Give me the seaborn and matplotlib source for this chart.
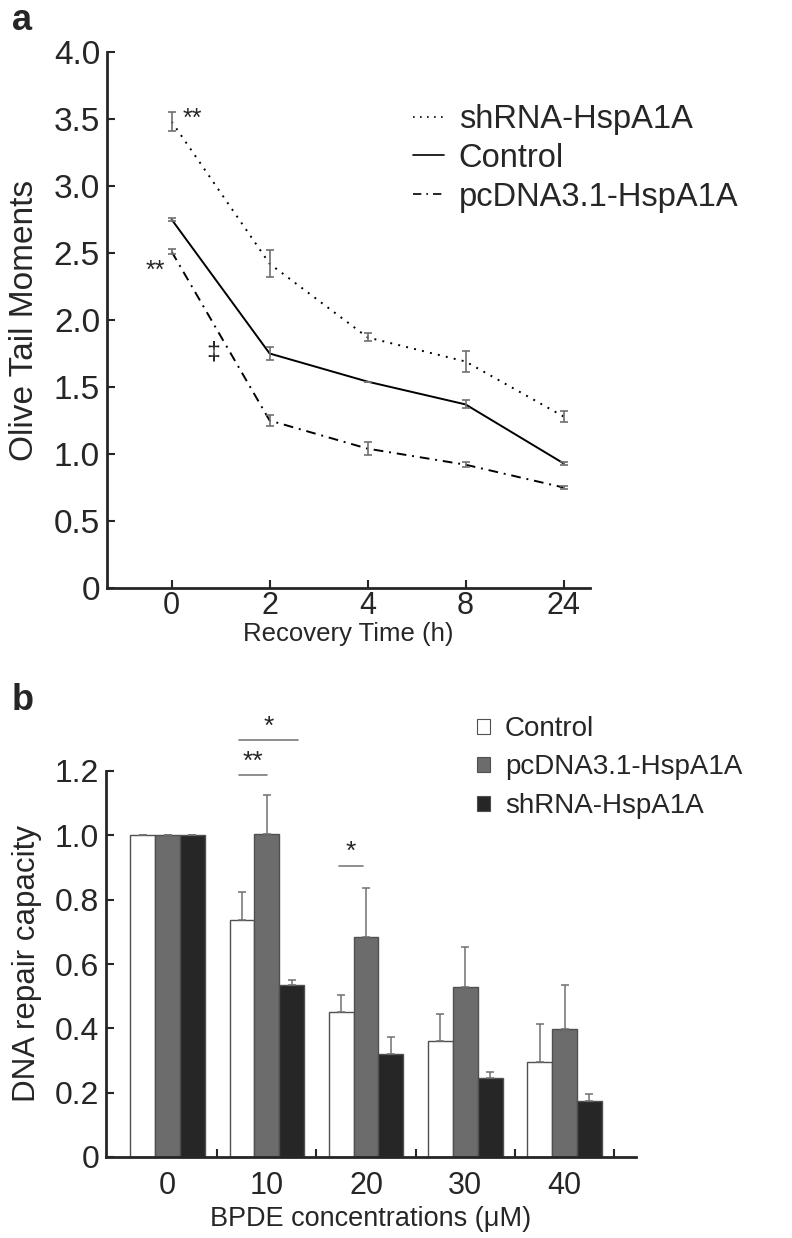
import numpy as np
import pandas as pd
import matplotlib
matplotlib.use("Agg")
import matplotlib.pyplot as plt
import seaborn as sns

# ---------------------------------------------------------------
# Panel a - Olive tail moments over recovery time
# ---------------------------------------------------------------
time_labels = ["0", "2", "4", "8", "24"]
sh_mean = [3.48, 2.42, 1.87, 1.69, 1.28]
sh_err = [0.07, 0.10, 0.03, 0.08, 0.04]
ctrl_mean = [2.75, 1.75, 1.54, 1.37, 0.93]
ctrl_err = [0.01, 0.05, 0.0, 0.03, 0.01]
pc_mean = [2.51, 1.25, 1.04, 0.92, 0.75]
pc_err = [0.02, 0.04, 0.05, 0.02, 0.01]
line_groups = ["shRNA-HspA1A", "Control", "pcDNA3.1-HspA1A"]

# ---------------------------------------------------------------
# Panel b - DNA repair capacity vs BPDE concentration
# ---------------------------------------------------------------
conc_labels = ["0", "10", "20", "30", "40"]
bar_groups = ["Control", "pcDNA3.1-HspA1A", "shRNA-HspA1A"]
ctrl_bar = [1.0, 0.736, 0.45, 0.361, 0.296]
ctrl_bar_err = [0.0, 0.087, 0.053, 0.083, 0.118]
pc_bar = [1.0, 1.005, 0.685, 0.529, 0.399]
pc_bar_err = [0.0, 0.12, 0.152, 0.125, 0.137]
sh_bar = [1.0, 0.536, 0.32, 0.245, 0.173]
sh_bar_err = [0.0, 0.014, 0.053, 0.02, 0.024]

sns.set_style("ticks")
plt.rcParams['font.family'] = ['Liberation Sans', 'DejaVu Sans']

fig = plt.figure(figsize=(7.92, 12.38), dpi=100)
W, H = 792, 1238

# ---------------- panel a ----------------
ax1 = fig.add_axes([107 / W, 1 - 588 / H, 483 / W, 536 / H])

df_line = pd.DataFrame({
    "pos": list(range(5)) * 3,
    "value": sh_mean + ctrl_mean + pc_mean,
    "group": np.repeat(line_groups, 5),
})
sns.lineplot(data=df_line, x="pos", y="value", style="group", style_order=line_groups,
             dashes={"shRNA-HspA1A": (1, 3.2), "Control": "",
                     "pcDNA3.1-HspA1A": (5, 3, 1, 3)},
             color="black", linewidth=1.4, ax=ax1, legend=True)

for means, errs in [(sh_mean, sh_err), (ctrl_mean, ctrl_err), (pc_mean, pc_err)]:
    ax1.errorbar(range(5), means, yerr=errs, fmt="none", ecolor="#707070",
                 elinewidth=1.2, capsize=3, capthick=1.2)

# axis starts well left of the first point, ends just after the last
ax1.set_xlim(-0.66, 4.27)
ax1.set_ylim(0, 4.0)
ax1.set_xticks(range(5))
ax1.set_xticklabels(time_labels)
yt = np.arange(0, 4.01, 0.5)
ax1.set_yticks(yt)
ax1.set_yticklabels(["0"] + [f"{v:.1f}" for v in yt[1:]])
ax1.tick_params(direction="in", length=6, width=1.5, labelsize=22, pad=5)
ax1.tick_params(axis="y", labelsize=24)
ax1.tick_params(axis="x", pad=2)
for s in ["left", "bottom"]:
    ax1.spines[s].set_linewidth(2)
sns.despine(ax=ax1)
ax1.set_xlabel("Recovery Time (h)", fontsize=18.5, labelpad=1)
ax1.set_ylabel("Olive Tail Moments", fontsize=24, labelpad=10)

ax1.text(0.11, 3.50, "**", fontsize=18, ha="left", va="center")
ax1.text(-0.17, 2.37, "**", fontsize=18, ha="center", va="center")
ax1.text(0.42, 1.76, "\u2021", fontsize=18, ha="center", va="center")

leg = ax1.legend(loc="upper left", bbox_to_anchor=(413 / W, 1 - 104 / H),
                 bbox_transform=fig.transFigure, frameon=False, fontsize=23.5,
                 handlelength=0.95, handletextpad=0.45, labelspacing=0.24,
                 borderaxespad=0, borderpad=0)
for h in leg.get_lines():
    h.set_linewidth(1.2)
fig.text(12 / W, 1 - 20 / H, "a", fontsize=26, fontweight="bold", va="center")

# ---------------- panel b ----------------
ax2 = fig.add_axes([106 / W, 1 - 1157 / H, 530 / W, 386 / H])

df_bar = pd.DataFrame({
    "conc": conc_labels * 3,
    "value": ctrl_bar + pc_bar + sh_bar,
    "group": np.repeat(bar_groups, 5),
})
bar_colors = {"Control": "#ffffff", "pcDNA3.1-HspA1A": "#6c6c6c", "shRNA-HspA1A": "#262626"}
bar_w = 0.75
sns.barplot(data=df_bar, x="conc", y="value", hue="group", hue_order=bar_groups,
            order=conc_labels, palette=bar_colors, width=bar_w, gap=0,
            edgecolor="#505050", linewidth=1.0, errorbar=None, ax=ax2)

for cont, errs in zip(ax2.containers, [ctrl_bar_err, pc_bar_err, sh_bar_err]):
    xs = [p.get_x() + p.get_width() / 2 for p in cont.patches]
    hs = [p.get_height() for p in cont.patches]
    ax2.errorbar(xs, hs, yerr=[np.zeros(len(errs)), errs], fmt="none",
                 ecolor="#707070", elinewidth=1.1, capsize=3, capthick=1.1)

ax2.set_xlim(-0.62, 4.72)
ax2.set_ylim(0, 1.2)
ax2.set_xticks(np.arange(0.5, 4.6, 1.0), minor=True)
ax2.tick_params(axis="x", which="major", length=0, pad=10)
ax2.tick_params(axis="x", which="minor", direction="in", length=6, width=1.5)
ax2.tick_params(axis="y", direction="in", length=6, width=1.5, pad=5)
ax2.set_yticks(np.arange(0, 1.21, 0.2))
ax2.set_yticklabels(["0"] + [f"{v:.1f}" for v in np.arange(0.2, 1.21, 0.2)], fontsize=23)
for lab in ax2.get_xticklabels():
    lab.set_fontsize(22)
for s in ["left", "bottom"]:
    ax2.spines[s].set_linewidth(2)
sns.despine(ax=ax2)
ax2.set_xlabel("BPDE concentrations (\u03bcM)", fontsize=19.5, labelpad=4)
ax2.set_ylabel("DNA repair capacity", fontsize=22.5, labelpad=9)

# significance brackets for group 10 and 20
bw = bar_w / 3
for (x0, x1, yl, lab) in [(1 - bw - 0.03, 1 + bw + 0.06, 1.295, "*"),
                          (1 - bw - 0.03, 1.0, 1.187, "**"),
                          (2 - bw - 0.02, 2 - 0.03, 0.905, "*")]:
    ax2.plot([x0, x1], [yl, yl], color="#7a7a7a", linewidth=1.2, clip_on=False)
    ax2.text((x0 + x1) / 2, yl + 0.005, lab, fontsize=19, ha="center", va="bottom")

leg2 = ax2.legend(loc="upper left", bbox_to_anchor=(477 / W, 1 - 716 / H),
                  bbox_transform=fig.transFigure, frameon=False, fontsize=20,
                  handlelength=0.45, handleheight=0.45, handletextpad=0.55,
                  labelspacing=0.45, borderaxespad=0, borderpad=0)
for p in leg2.get_patches():
    p.set_linewidth(0.8)
fig.text(12 / W, 1 - 700 / H, "b", fontsize=26, fontweight="bold", va="center")

fig.savefig("out.png", dpi=100)
